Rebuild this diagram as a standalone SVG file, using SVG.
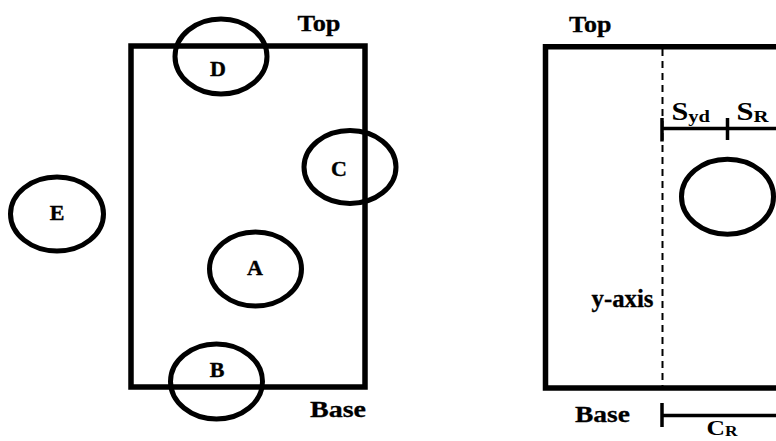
<svg xmlns="http://www.w3.org/2000/svg" width="776" height="441" viewBox="0 0 776 441">
  <style>
    .frame { fill: none; stroke: #000; stroke-width: 5.5; }
    .ring { fill: none; stroke: #000; stroke-width: 5; }
    .dim { fill: none; stroke: #000; stroke-width: 3.5; }
    .axis { fill: none; stroke: #000; stroke-width: 2; stroke-dasharray: 7 5; }
    text { font-family: "Liberation Serif", "Times New Roman", serif; font-weight: bold; fill: #000; }
    .lbl { font-size: 22px; text-anchor: middle; stroke: #000; stroke-width: 0.4; }
    .side { font-size: 24px; stroke: #000; stroke-width: 0.3; }
    .sym { font-size: 25px; }
    .sub { font-size: 17px; }
  </style>
  <rect width="776" height="441" fill="#fff"/>

  <!-- left panel: rectangle with circular zones -->
  <g id="left-frame">
    <rect class="frame" x="131" y="46" width="234" height="341"/>
    <text class="side" x="297.5" y="31" textLength="43" lengthAdjust="spacingAndGlyphs">Top</text>
    <text class="side" x="310" y="416.5" textLength="56" lengthAdjust="spacingAndGlyphs">Base</text>
  </g>
  <g id="node-D">
    <ellipse class="ring" cx="221" cy="56.5" rx="46" ry="37.5"/>
    <text class="lbl" x="218" y="76">D</text>
  </g>
  <g id="node-C">
    <ellipse class="ring" cx="350" cy="167" rx="46" ry="36.5"/>
    <text class="lbl" x="339" y="176">C</text>
  </g>
  <g id="node-E">
    <ellipse class="ring" cx="57" cy="214" rx="46.5" ry="37"/>
    <text class="lbl" x="57" y="220">E</text>
  </g>
  <g id="node-A">
    <ellipse class="ring" cx="255.5" cy="269" rx="46" ry="37"/>
    <text class="lbl" x="255" y="275">A</text>
  </g>
  <g id="node-B">
    <ellipse class="ring" cx="216.5" cy="381.5" rx="46" ry="37.5"/>
    <text class="lbl" x="217" y="376.5">B</text>
  </g>

  <!-- right panel: frame with y-axis and spacings -->
  <g id="right-frame">
    <path class="frame" d="M 790 46.7 H 545.5 V 388 H 790"/>
    <text class="side" x="569" y="31.5" textLength="42.5" lengthAdjust="spacingAndGlyphs">Top</text>
    <text class="side" x="575" y="421.5" textLength="55" lengthAdjust="spacingAndGlyphs">Base</text>
  </g>
  <g id="node-hole">
    <ellipse class="ring" cx="727.5" cy="196.7" rx="46" ry="37.5"/>
  </g>
  <g id="connectors">
    <line class="axis" x1="662.5" y1="49" x2="662.5" y2="387"/>
    <line class="dim" x1="662" y1="128.5" x2="790" y2="128.5"/>
    <line class="dim" x1="662" y1="118" x2="662" y2="141.5"/>
    <line class="dim" x1="727.5" y1="118" x2="727.5" y2="140"/>
    <line class="dim" x1="662" y1="415.5" x2="790" y2="415.5"/>
    <line class="dim" x1="662" y1="403" x2="662" y2="427"/>
  </g>
  <g id="labels">
    <text x="591.5" y="306.5" font-size="25" stroke="#000" stroke-width="0.3" textLength="62" lengthAdjust="spacingAndGlyphs">y-axis</text>
    <text class="sym" x="671.5" y="120" textLength="38.5" lengthAdjust="spacingAndGlyphs">S<tspan class="sub" dy="1.5">yd</tspan></text>
    <text class="sym" x="736.5" y="120" textLength="32" lengthAdjust="spacingAndGlyphs">S<tspan class="sub" dy="1.5">R</tspan></text>
    <text x="706.5" y="435" font-size="22" textLength="31" lengthAdjust="spacingAndGlyphs">C<tspan font-size="15" dy="1">R</tspan></text>
  </g>
</svg>
